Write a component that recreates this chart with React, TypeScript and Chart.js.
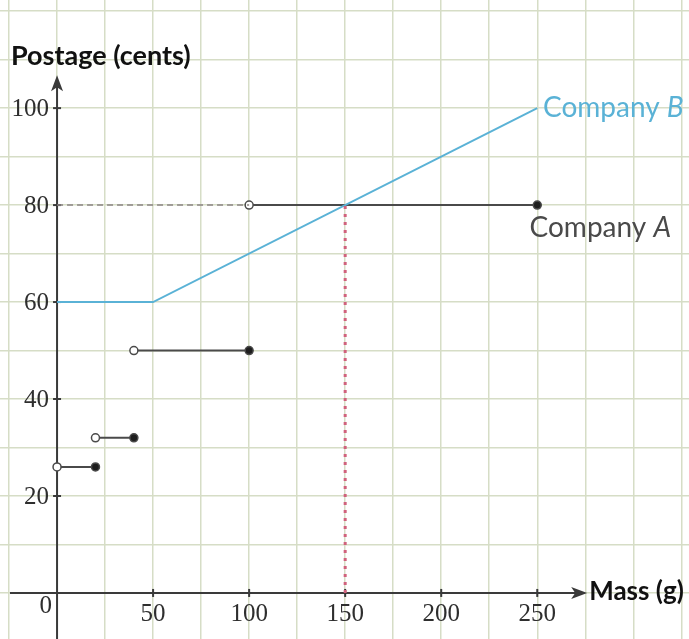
import React, { useEffect, useRef } from "react";
import { Chart, registerables } from "chart.js";

Chart.register(...registerables);

// Company A: step pricing (open circle at start, filled at end)
const aStart = [0, 20, 40, 100];
const aEnd = [20, 40, 100, 250];
const aCost = [26, 32, 50, 80];

// Company B: piecewise linear
const bMass = [0, 50, 250];
const bCost = [60, 60, 100];

// Reference lines
const crossMass = 150;
const crossCost = 80;

const xTickLabels = [50, 100, 150, 200, 250];
const yTickLabels = [20, 40, 60, 80, 100];

const X_MIN = -29.7;
const X_MAX = 329;
const Y_MIN = -9.5;
const Y_MAX = 122.3;

const GRID = "#d6ddc6";
const AXIS = "#3a3a3a";
const A_COLOR = "#4a4a4a";
const B_COLOR = "#5ab2d6";
const PINK = "#d0627c";
const SANS = "Lato, 'Open Sans', sans-serif";

const axesPlugin = {
  id: "axesPlugin",
  beforeDatasetsDraw(chart: any) {
    const { ctx, scales } = chart;
    const xs = scales.x;
    const ys = scales.y;
    const x0 = xs.getPixelForValue(0);
    const y0 = ys.getPixelForValue(0);
    ctx.save();
    ctx.strokeStyle = AXIS;
    ctx.fillStyle = AXIS;
    ctx.lineWidth = 2;
    // x axis
    const xLeft = xs.getPixelForValue(-24.5);
    const xTip = xs.getPixelForValue(276);
    ctx.beginPath();
    ctx.moveTo(xLeft, y0);
    ctx.lineTo(xTip - 8, y0);
    ctx.stroke();
    ctx.beginPath();
    ctx.moveTo(xTip, y0);
    ctx.lineTo(xTip - 16, y0 - 6);
    ctx.lineTo(xTip - 12, y0);
    ctx.lineTo(xTip - 16, y0 + 6);
    ctx.closePath();
    ctx.fill();
    // y axis
    const yBottom = ys.getPixelForValue(Y_MIN);
    const yTip = ys.getPixelForValue(106.8);
    ctx.beginPath();
    ctx.moveTo(x0, yBottom);
    ctx.lineTo(x0, yTip + 8);
    ctx.stroke();
    ctx.beginPath();
    ctx.moveTo(x0, yTip);
    ctx.lineTo(x0 - 6, yTip + 16);
    ctx.lineTo(x0, yTip + 12);
    ctx.lineTo(x0 + 6, yTip + 16);
    ctx.closePath();
    ctx.fill();
    // tick marks
    xTickLabels.forEach((v) => {
      const p = xs.getPixelForValue(v);
      ctx.beginPath();
      ctx.moveTo(p, y0 - 4);
      ctx.lineTo(p, y0 + 4);
      ctx.stroke();
    });
    yTickLabels.forEach((v) => {
      const p = ys.getPixelForValue(v);
      ctx.beginPath();
      ctx.moveTo(x0 - 4, p);
      ctx.lineTo(x0 + 4, p);
      ctx.stroke();
    });
    // tick labels
    ctx.fillStyle = "#2e2e2e";
    ctx.font = "25px 'Liberation Serif', serif";
    ctx.textAlign = "center";
    ctx.textBaseline = "middle";
    xTickLabels.forEach((v) => {
      ctx.fillText(String(v), xs.getPixelForValue(v), y0 + 21);
    });
    ctx.textAlign = "right";
    yTickLabels.forEach((v) => {
      ctx.fillText(String(v), x0 - 8, ys.getPixelForValue(v) + 1);
    });
    ctx.fillText("0", x0 - 5, y0 + 13);
    // axis titles
    ctx.fillStyle = "#111";
    ctx.font = "bold 27px " + SANS;
    ctx.textAlign = "left";
    ctx.fillText("Postage (cents)", 11, ys.getPixelForValue(110.6));
    ctx.font = "bold 26px " + SANS;
    ctx.fillText("Mass (g)", xTip + 2, y0 - 1);
    // series labels
    ctx.font = "28px " + SANS;
    ctx.fillStyle = B_COLOR;
    const bx = xs.getPixelForValue(253);
    const by = ys.getPixelForValue(100);
    ctx.fillText("Company ", bx, by);
    let w = ctx.measureText("Company ").width;
    ctx.font = "italic 28px " + SANS;
    ctx.fillText("B", bx + w, by);
    ctx.font = "28px " + SANS;
    ctx.fillStyle = A_COLOR;
    const ax = xs.getPixelForValue(246);
    const ay = ys.getPixelForValue(75.2);
    ctx.fillText("Company ", ax, ay);
    w = ctx.measureText("Company ").width;
    ctx.font = "italic 28px " + SANS;
    ctx.fillText("A", ax + w, ay);
    ctx.restore();
  },
};

export default function App() {
  const ref = useRef<HTMLCanvasElement | null>(null);

  useEffect(() => {
    if (!ref.current) return;
    const datasets: any[] = [];
    datasets.push({
      data: [
        { x: 0, y: crossCost },
        { x: aStart[aStart.length - 1], y: crossCost },
      ],
      showLine: true,
      borderColor: "#8a8484",
      borderWidth: 1.5,
      borderDash: [6, 4],
      pointRadius: 0,
    });
    datasets.push({
      data: [
        { x: crossMass, y: 0 },
        { x: crossMass, y: crossCost },
      ],
      showLine: true,
      borderColor: PINK,
      borderWidth: 3,
      borderDash: [3, 5],
      pointRadius: 0,
    });
    datasets.push({
      data: bMass.map((m, i) => ({ x: m, y: bCost[i] })),
      showLine: true,
      borderColor: B_COLOR,
      borderWidth: 2,
      pointRadius: 0,
    });
    aStart.forEach((s, i) => {
      datasets.push({
        data: [
          { x: s, y: aCost[i] },
          { x: aEnd[i], y: aCost[i] },
        ],
        showLine: true,
        borderColor: A_COLOR,
        borderWidth: 2,
        pointRadius: 4,
        pointBorderWidth: 1.5,
        pointBorderColor: A_COLOR,
        pointBackgroundColor: ["#ffffff", "#1e1e1e"],
      });
    });

    const chart = new Chart(ref.current, {
      type: "scatter",
      data: { datasets },
      options: {
        animation: false,
        responsive: false,
        maintainAspectRatio: false,
        layout: { padding: 0, autoPadding: false },
        plugins: {
          legend: { display: false },
          tooltip: { enabled: false },
        },
        scales: {
          x: {
            type: "linear",
            min: X_MIN,
            max: X_MAX,
            afterBuildTicks: (scale: any) => {
              const t: any[] = [];
              for (let v = -25; v <= 325; v += 25) t.push({ value: v });
              scale.ticks = t;
            },
            ticks: { display: false },
            border: { display: false },
            grid: { color: GRID, lineWidth: 1.5, drawTicks: false },
          },
          y: {
            type: "linear",
            min: Y_MIN,
            max: Y_MAX,
            afterBuildTicks: (scale: any) => {
              const t: any[] = [];
              for (let v = 0; v <= 120; v += 10) t.push({ value: v });
              scale.ticks = t;
            },
            ticks: { display: false },
            border: { display: false },
            grid: { color: GRID, lineWidth: 1.5, drawTicks: false },
          },
        },
      } as any,
      plugins: [axesPlugin],
    });
    return () => chart.destroy();
  }, []);

  return (
    <div
      style={{
        position: "absolute",
        left: 0,
        top: 0,
        width: 689,
        height: 639,
        background: "#fff",
      }}
    >
      <canvas ref={ref} width={689} height={639} />
    </div>
  );
}
